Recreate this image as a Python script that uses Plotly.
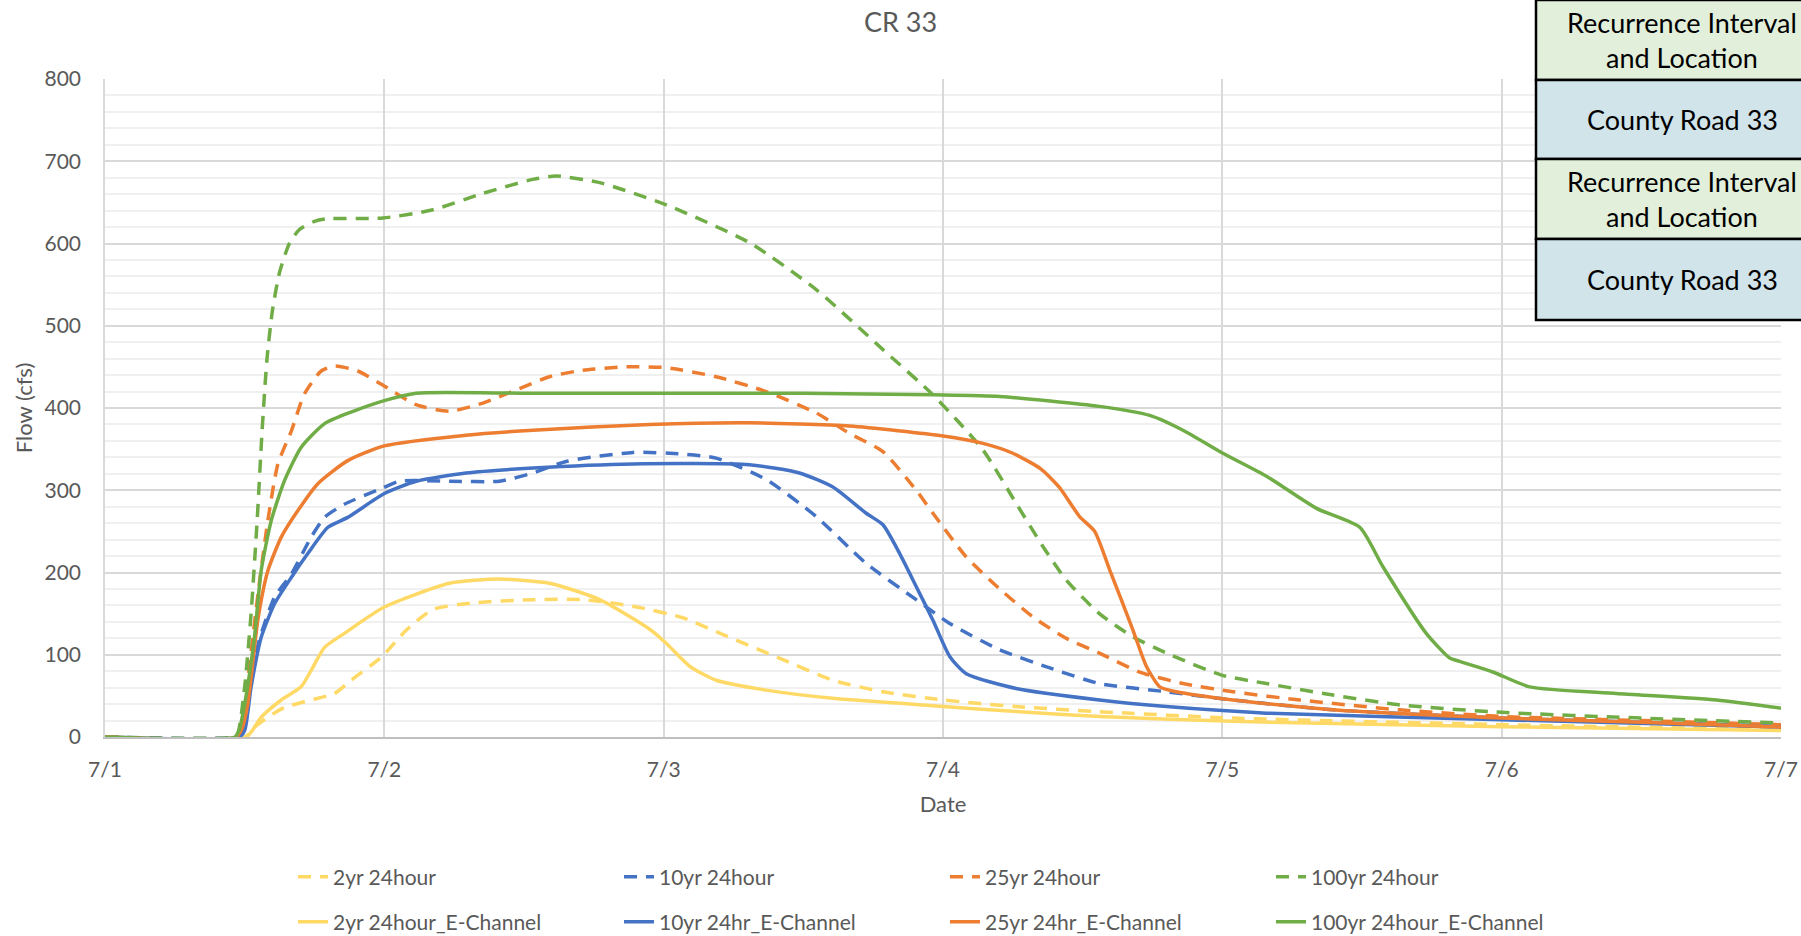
import plotly.graph_objects as go

# ---------------- data (days after 7/1, flow in cfs) ----------------
tick_vals = [0, 1, 2, 3, 4, 5, 6]
tick_text = ["7/1", "7/2", "7/3", "7/4", "7/5", "7/6", "7/7"]

t_2yr = [0, 0.5, 0.535, 0.583, 0.643, 0.738, 0.822, 0.881, 0.989, 1.079, 1.174, 1.317, 1.532, 1.711, 1.89,
         2.069, 2.188, 2.427, 2.606, 2.785, 3.0, 3.262, 3.549, 4.038, 5.0, 6.0]
q_2yr = [0, 0, 12, 24, 36, 45, 53, 69, 97, 130, 155, 163, 167, 167, 159,
         145, 128, 94, 69, 55, 45, 37, 31, 23, 15, 9]

t_10yr = [0, 0.47, 0.49, 0.52, 0.55, 0.607, 0.667, 0.738, 0.786, 0.857, 0.989, 1.054, 1.233, 1.412, 1.532,
          1.651, 1.89, 2.069, 2.188, 2.367, 2.546, 2.725, 2.904, 3.024, 3.203, 3.382, 3.56, 3.80, 4.038,
          4.396, 5.0, 5.5, 6.0]
q_10yr = [0, 0, 5, 60, 115, 170, 198, 243, 267, 283, 302, 311, 311, 311, 321,
          335, 346, 344, 339, 313, 268, 211, 167, 138, 106, 84, 65, 55, 45,
          33, 23, 18, 13]

t_25yr = [0, 0.47, 0.493, 0.517, 0.55, 0.583, 0.619, 0.667, 0.714, 0.774, 0.822, 0.905, 0.989, 1.114, 1.233,
          1.353, 1.472, 1.591, 1.711, 1.866, 2.009, 2.188, 2.367, 2.546, 2.666, 2.785, 2.904, 2.964, 3.083,
          3.203, 3.322, 3.441, 3.56, 3.704, 3.859, 4.038, 4.277, 4.635, 5.0, 5.5, 6.0]
q_25yr = [0, 0, 13, 86, 180, 263, 332, 372, 417, 445, 451, 445, 429, 404, 396,
          406, 422, 438, 446, 450, 449, 438, 420, 394, 369, 347, 300, 272, 219,
          180, 146, 120, 102, 79, 65, 55, 45, 33, 25, 20, 15]

t_100yr = [0, 0.46, 0.475, 0.5, 0.523, 0.545, 0.562, 0.58, 0.6, 0.625, 0.66, 0.696, 0.75, 0.792, 0.995,
           1.174, 1.353, 1.532, 1.615, 1.771, 2.009, 2.307, 2.546, 2.785, 2.964, 3.143, 3.262, 3.357, 3.441,
           3.56, 3.679, 3.80, 4.0, 4.158, 4.396, 4.635, 5.0, 5.5, 6.0]
q_100yr = [0, 0, 4, 61, 150, 265, 370, 460, 520, 565, 600, 617, 627, 630, 631,
           641, 661, 678, 682, 674, 647, 601, 544, 471, 416, 349, 284, 232, 191,
           150, 122, 102, 75, 65, 51, 39, 30, 23, 17]

t_2yr_e = [0, 0.505, 0.559, 0.631, 0.702, 0.738, 0.786, 0.857, 1.0, 1.233, 1.412, 1.591, 1.771,
           1.95, 2.009, 2.093, 2.188, 2.367, 2.606, 2.964, 3.262, 3.56, 4.038, 5.0, 6.0]
q_2yr_e = [0, 0, 24, 45, 61, 81, 109, 126, 158, 187, 192, 187, 167,
           131, 114, 86, 69, 57, 47, 38, 31, 25, 19, 12.5, 8]

t_10yr_e = [0, 0.48, 0.5, 0.523, 0.559, 0.607, 0.667, 0.726, 0.798, 0.869, 1.0, 1.114, 1.293, 1.532,
            1.89, 2.307, 2.486, 2.606, 2.725, 2.785, 2.845, 2.904, 2.964, 3.024, 3.083, 3.262, 3.56, 3.80,
            4.158, 5.0, 6.0]
q_10yr_e = [0, 0, 8, 61, 121, 162, 194, 223, 255, 267, 296, 311, 321, 327,
            332, 331, 321, 304, 272, 258, 223, 183, 142, 98, 77, 59, 45, 37,
            29, 21, 12]

t_25yr_e = [0, 0.47, 0.49, 0.511, 0.547, 0.583, 0.631, 0.69, 0.762, 0.869, 1.0, 1.293, 1.532, 1.95, 2.307,
            2.666, 3.0, 3.143, 3.25, 3.35, 3.418, 3.489, 3.543, 3.597, 3.68, 3.728, 3.776, 3.835, 4.038,
            4.396, 5.0, 5.5, 6.0]
q_25yr_e = [0, 0, 10, 40, 142, 202, 243, 275, 308, 336, 354, 367, 373, 380, 382,
            378, 366, 357, 345, 326, 303, 268, 250, 203, 130, 86, 61, 55, 45,
            33, 23, 18, 12]

t_100yr_e = [0, 0.465, 0.48, 0.5, 0.535, 0.559, 0.595, 0.643, 0.702, 0.786, 0.881, 1.0, 1.114, 1.5, 2.0,
             2.5, 2.964, 3.203, 3.56, 3.74, 3.859, 4.002, 4.158, 4.337, 4.492, 4.575, 4.73, 4.814, 4.849,
             4.969, 5.1, 5.41, 5.769, 6.0]
q_100yr_e = [0, 0, 8, 40, 121, 202, 263, 312, 352, 381, 395, 409, 418, 418, 418,
             418, 416, 414, 402, 391, 373, 345, 317, 278, 255, 207, 126, 96, 92,
             79, 61, 53, 45, 35]

series_names = ["2yr 24hour", "10yr 24hour", "25yr 24hour", "100yr 24hour",
                "2yr 24hour_E-Channel", "10yr 24hr_E-Channel", "25yr 24hr_E-Channel", "100yr 24hour_E-Channel"]
series_colors = ["#FFD966", "#4472C4", "#ED7D31", "#70AD47"]

table_rows = ["Recurrence Interval<br>and Location", "County Road 33",
              "Recurrence Interval<br>and Location", "County Road 33"]
table_fill = ["#E2EFDA", "#D0E4EA", "#E2EFDA", "#D0E4EA"]

# ---------------- figure ----------------
FONT = "Lato, Carlito, Calibri, sans-serif"
GREY = "#595959"

fig = go.Figure()
dashed = [(t_2yr, q_2yr), (t_10yr, q_10yr), (t_25yr, q_25yr), (t_100yr, q_100yr)]
solid = [(t_2yr_e, q_2yr_e), (t_10yr_e, q_10yr_e), (t_25yr_e, q_25yr_e), (t_100yr_e, q_100yr_e)]

for i, (t, q) in enumerate(dashed):
    fig.add_trace(go.Scatter(x=t, y=q, mode="lines", name=series_names[i],
                             line=dict(color=series_colors[i], width=3.5, dash="13px,9px",
                                       shape="spline", smoothing=0.6),
                             legend="legend"))
for i, (t, q) in enumerate(solid):
    fig.add_trace(go.Scatter(x=t, y=q, mode="lines", name=series_names[i + 4],
                             line=dict(color=series_colors[i], width=3.5,
                                       shape="spline", smoothing=0.6),
                             legend="legend2"))

W, H = 1801, 936
ML, MR, MT, MB = 105, 20, 79, 199
PW, PH = W - ML - MR, H - MT - MB


def px_x(px):
    return (px - ML) / PW


def px_y(py):
    return (H - MB - py) / PH


# table overlay (top right)
row_edges = [0, 80, 159, 239, 320]
for i, txt in enumerate(table_rows):
    fig.add_shape(type="rect", xref="paper", yref="paper",
                  x0=px_x(1536), x1=px_x(1830), y0=px_y(row_edges[i + 1]), y1=px_y(row_edges[i]),
                  fillcolor=table_fill[i], line=dict(color="#000000", width=2.5), layer="above")
    fig.add_annotation(xref="paper", yref="paper", x=px_x(1682),
                       y=px_y((row_edges[i] + row_edges[i + 1]) / 2),
                       text=txt, showarrow=False, xanchor="center", yanchor="middle",
                       font=dict(family=FONT, size=27, color="#000000"))

legend_common = dict(orientation="h", xanchor="left", yanchor="middle",
                     font=dict(family=FONT, size=21, color=GREY),
                     bgcolor="rgba(0,0,0,0)", entrywidth=281, itemwidth=30,
                     traceorder="normal")

fig.update_layout(
    width=W, height=H,
    margin=dict(l=ML, r=MR, t=MT, b=MB, autoexpand=False),
    paper_bgcolor="#FFFFFF", plot_bgcolor="#FFFFFF",
    font=dict(family=FONT, color=GREY),
    title=dict(text="CR 33", x=0.5, xref="container", xanchor="center",
               y=1 - 23 / H, yref="container", yanchor="middle",
               font=dict(family=FONT, size=27, color=GREY)),
    showlegend=True,
    legend=dict(x=px_x(293), y=px_y(877), **legend_common),
    legend2=dict(x=px_x(293), y=px_y(922), **legend_common),
    xaxis=dict(range=[0, 6], tickmode="array", tickvals=tick_vals, ticktext=tick_text,
               showgrid=True, gridcolor="#D9D9D9", gridwidth=1.5,
               showline=True, linecolor="#BFBFBF", linewidth=2, mirror=False,
               zeroline=False, ticks="", ticklabelstandoff=13,
               tickfont=dict(family=FONT, size=21, color=GREY),
               title=dict(text="Date", standoff=16, font=dict(family=FONT, size=22, color=GREY)),
               automargin=False),
    yaxis=dict(range=[0, 800], dtick=100, tick0=0,
               showgrid=True, gridcolor="#D9D9D9", gridwidth=1.5,
               minor=dict(dtick=20, showgrid=True, gridcolor="#F0F0F0", gridwidth=1.5),
               showline=True, linecolor="#D9D9D9", linewidth=1.5,
               zeroline=False, ticks="", ticklabelstandoff=18,
               tickfont=dict(family=FONT, size=21, color=GREY),
               title=dict(text="Flow (cfs)", standoff=6, font=dict(family=FONT, size=22, color=GREY)),
               automargin=False),
)

fig.write_html("out.html", config={"displayModeBar": False},
               post_script="document.body.style.margin='0';")
